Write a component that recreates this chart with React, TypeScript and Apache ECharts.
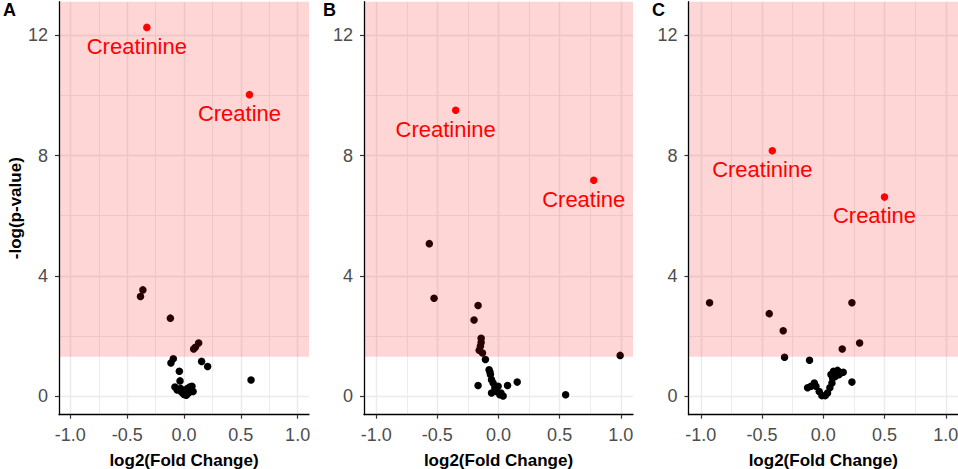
import React, { useEffect, useRef } from "react";
import * as echarts from "echarts";

const FONT = "'Liberation Sans', Arial, Helvetica, sans-serif";

// axis scales
const X_MIN = -1.1;
const X_MAX = 1.1;
const Y_MIN = -0.625;
const Y_MAX = 13.125;
const X_TICKS = [-1, -0.5, 0, 0.5, 1];
const X_MINOR = [-0.75, -0.25, 0.25, 0.75];
const Y_TICKS = [0, 4, 8, 12];
const Y_MINOR = [2, 6, 10];
const THRESHOLD = 1.301; // -log10(0.05)

const PANEL_LABELS = ["A", "B", "C"];
const X_TITLE = "log2(Fold Change)";
const Y_TITLE = "-log(p-value)";

// Panel A
const A_BLACK = [
  [-0.362, 3.53], [-0.383, 3.31], [-0.12, 2.59], [0.129, 1.76], [0.1, 1.62],
  [0.085, 1.56], [-0.094, 1.24], [-0.115, 1.1], [0.155, 1.15], [0.208, 0.98],
  [0.59, 0.53], [-0.041, 0.82], [-0.035, 0.5], [-0.08, 0.3], [-0.06, 0.2],
  [-0.03, 0.25], [0.0, 0.05], [0.02, 0.02], [0.04, 0.1], [0.06, 0.2],
  [0.07, 0.32], [0.08, 0.15], [0.05, 0.3], [-0.02, 0.12], [0.01, 0.15], [0.03, 0.25],
];
const A_RED = [
  { name: "Creatinine", value: [-0.327, 12.27] },
  { name: "Creatine", value: [0.576, 10.03] },
];

// Panel B
const B_BLACK = [
  [-0.566, 5.07], [-0.527, 3.25], [-0.167, 3.01], [-0.2, 2.53], [-0.142, 1.92],
  [-0.142, 1.78], [-0.148, 1.65], [-0.158, 1.52], [-0.131, 1.43], [-0.107, 1.21],
  [0.995, 1.35], [-0.077, 0.87], [-0.066, 0.71], [-0.057, 0.54], [-0.044, 0.43],
  [-0.167, 0.35], [0.074, 0.35], [0.153, 0.46], [0.549, 0.04], [-0.03, 0.27],
  [-0.057, 0.1], [-0.016, 0.15], [0.011, 0.04], [0.038, 0.0], [-0.003, 0.32],
  [-0.07, 0.8], [0.02, 0.1],
];
const B_RED = [
  { name: "Creatinine", value: [-0.35, 9.51] },
  { name: "Creatine", value: [0.779, 7.18] },
];

// Panel C
const C_BLACK = [
  [-0.928, 3.1], [-0.441, 2.74], [-0.327, 2.17], [-0.316, 1.29], [-0.112, 1.19],
  [0.234, 3.1], [0.297, 1.76], [0.155, 1.56], [0.234, 0.46], [-0.128, 0.27],
  [-0.1, 0.32], [-0.073, 0.43], [-0.06, 0.32], [-0.033, 0.15], [-0.011, 0.01],
  [0.016, 0.01], [0.035, 0.1], [0.054, 0.27], [0.071, 0.43], [0.076, 0.6],
  [0.084, 0.82], [0.117, 0.85], [0.13, 0.71], [0.163, 0.79], [0.098, 0.65], [0.063, 0.71],
];
const C_RED = [
  { name: "Creatinine", value: [-0.416, 8.16] },
  { name: "Creatine", value: [0.5, 6.62] },
];

const BLACKS = [A_BLACK, B_BLACK, C_BLACK];
const REDS = [A_RED, B_RED, C_RED];

const GRIDS = [
  { left: 59, top: 1.7, width: 250, height: 413 },
  { left: 364, top: 1.7, width: 269, height: 413 },
  { left: 688.5, top: 1.7, width: 269.5, height: 413 },
];
const LABEL_POS = [
  { left: 3, top: 1 },
  { left: 323, top: 1 },
  { left: 652, top: 1 },
];

function buildOption() {
  const grid = GRIDS.map((g) => ({ ...g, containLabel: false, outerBoundsMode: "none" }));
  const xAxis = GRIDS.map((_, i) => ({
    type: "value",
    gridIndex: i,
    min: X_MIN,
    max: X_MAX,
    z: 10,
    axisLine: { show: true, onZero: false, lineStyle: { color: "#000", width: 1.3 } },
    axisTick: { show: true, customValues: X_TICKS, length: 4, lineStyle: { color: "#333", width: 1.2 } },
    axisLabel: {
      customValues: X_TICKS,
      formatter: (v: number) => v.toFixed(1),
      fontSize: 18,
      color: "#4D4D4D",
      fontFamily: FONT,
      margin: 11,
    },
    splitLine: { show: false },
    name: X_TITLE,
    nameLocation: "middle",
    nameGap: 37,
    nameTextStyle: { fontWeight: "bold", fontSize: 17, color: "#000", fontFamily: FONT },
  }));
  const yAxis = GRIDS.map((_, i) => ({
    type: "value",
    gridIndex: i,
    min: Y_MIN,
    max: Y_MAX,
    z: 10,
    axisLine: { show: true, onZero: false, lineStyle: { color: "#000", width: 1.3 } },
    axisTick: { show: true, customValues: Y_TICKS, length: 4, lineStyle: { color: "#333", width: 1.2 } },
    axisLabel: {
      customValues: Y_TICKS,
      formatter: (v: number) => String(v),
      fontSize: 18,
      color: "#4D4D4D",
      fontFamily: FONT,
      margin: 11,
    },
    splitLine: { show: false },
    name: i === 0 ? Y_TITLE : "",
    nameLocation: "middle",
    nameGap: 34,
    nameRotate: 90,
    nameTextStyle: { fontWeight: "bold", fontSize: 17, color: "#000", fontFamily: FONT },
  }));

  const series: any[] = [];
  GRIDS.forEach((_, i) => {
    const gridLines = [
      ...Y_TICKS.map((v) => ({ yAxis: v, lineStyle: { color: "#EBEBEB", width: 1.4, type: "solid" } })),
      ...Y_MINOR.map((v) => ({ yAxis: v, lineStyle: { color: "#EBEBEB", width: 0.9, type: "solid" } })),
      ...X_TICKS.map((v) => ({ xAxis: v, lineStyle: { color: "#EBEBEB", width: 1.4, type: "solid" } })),
      ...X_MINOR.map((v) => ({ xAxis: v, lineStyle: { color: "#EBEBEB", width: 0.9, type: "solid" } })),
    ];
    series.push({
      type: "scatter",
      xAxisIndex: i,
      yAxisIndex: i,
      data: [],
      z: 1,
      silent: true,
      markLine: {
        z: 1,
        silent: true,
        symbol: ["none", "none"],
        label: { show: false },
        animation: false,
        data: gridLines,
      },
    });
    series.push({
      type: "scatter",
      xAxisIndex: i,
      yAxisIndex: i,
      data: BLACKS[i],
      z: 2,
      symbolSize: 7.5,
      itemStyle: { color: "#000", opacity: 1 },
    });
    series.push({
      type: "scatter",
      xAxisIndex: i,
      yAxisIndex: i,
      data: [],
      z: 3,
      silent: true,
      markArea: {
        z: 3,
        silent: true,
        itemStyle: { color: "rgba(255,0,0,0.16)" },
        data: [[{ xAxis: X_MIN, yAxis: THRESHOLD }, { xAxis: X_MAX, yAxis: Y_MAX }]],
      },
    });
    series.push({
      type: "scatter",
      xAxisIndex: i,
      yAxisIndex: i,
      data: REDS[i],
      z: 4,
      symbolSize: 7.5,
      itemStyle: { color: "#FF0000", opacity: 1 },
      label: {
        show: true,
        formatter: "{b}",
        position: "bottom",
        distance: 4,
        offset: [-10, 0],
        fontSize: 22,
        color: "#FF0000",
        fontFamily: FONT,
      },
    });
  });

  const graphic = PANEL_LABELS.map((t, i) => ({
    type: "text",
    left: LABEL_POS[i].left,
    top: LABEL_POS[i].top,
    style: { text: t, fontSize: 18, fontWeight: "bold", fill: "#000", fontFamily: FONT },
  }));

  return {
    animation: false,
    backgroundColor: "#fff",
    grid,
    xAxis,
    yAxis,
    series,
    graphic,
  };
}

export default function App() {
  const ref = useRef<HTMLDivElement>(null);
  useEffect(() => {
    document.body.style.margin = "0";
    const chart = echarts.init(ref.current!, null, { renderer: "svg" });
    chart.setOption(buildOption() as any);
    return () => chart.dispose();
  }, []);
  return <div ref={ref} style={{ width: 958, height: 469 }} />;
}
